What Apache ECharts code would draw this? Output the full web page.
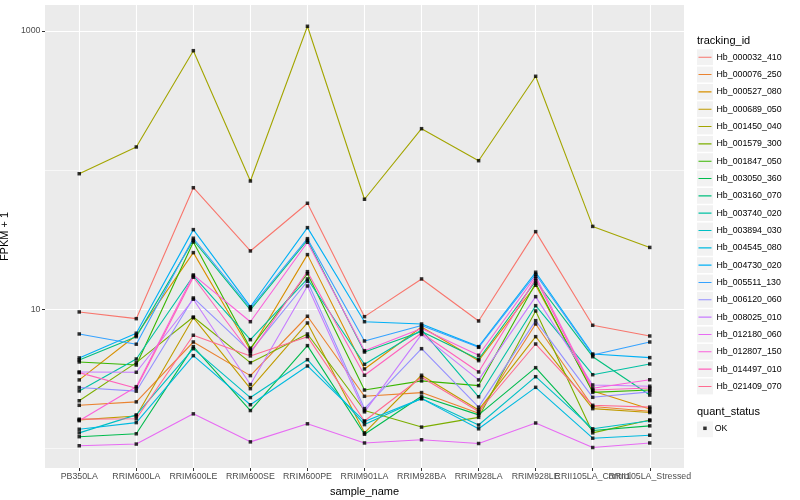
<!DOCTYPE html>
<html><head><meta charset="utf-8">
<script src="https://cdn.jsdelivr.net/npm/echarts@6/dist/echarts.min.js"></script>
<style>html,body{margin:0;padding:0;background:#fff}#c{width:800px;height:500px}</style>
</head><body><div id="c"></div>
<script>
const categories = ['PB350LA','RRIM600LA','RRIM600LE','RRIM600SE','RRIM600PE','RRIM901LA','RRIM928BA','RRIM928LA','RRIM928LE','RRII105LA_Control','RRII105LA_Stressed'];
const trackingIds = ['Hb_000032_410','Hb_000076_250','Hb_000527_080','Hb_000689_050','Hb_001450_040','Hb_001579_300','Hb_001847_050','Hb_003050_360','Hb_003160_070','Hb_003740_020','Hb_003894_030','Hb_004545_080','Hb_004730_020','Hb_005511_130','Hb_006120_060','Hb_008025_010','Hb_012180_060','Hb_012807_150','Hb_014497_010','Hb_021409_070'];
const lineColors = ['#F8766D','#EA8331','#D89000','#C09B00','#A3A500','#7CAE00','#39B600','#00BB4E','#00BF7D','#00C1A3','#00BFC4','#00BAE0','#00B0F6','#35A2FF','#9590FF','#C77CFF','#E76BF3','#FA62DB','#FF62BC','#FF6C91'];

const Hb_000032_410 = [9.60, 8.59, 74.9, 26.32, 57.9, 8.88, 16.57, 8.27, 36.22, 7.70, 6.45];
const Hb_000076_250 = [2.05, 2.17, 5.84, 3.35, 8.94, 2.38, 2.53, 1.80, 7.87, 2.01, 1.86];
const Hb_000527_080 = [3.12, 6.53, 25.60, 5.12, 24.77, 3.74, 7.49, 4.29, 14.93, 2.60, 1.93];
const Hb_000689_050 = [1.61, 1.72, 8.73, 2.70, 8.00, 1.30, 3.37, 1.90, 6.38, 1.94, 1.82];
const Hb_001450_040 = [94.4, 146.9, 722, 83.7, 1081, 61.9, 198.8, 117.1, 472.8, 39.5, 27.9];
const Hb_001579_300 = [2.21, 4.15, 8.83, 4.15, 6.67, 1.88, 1.43, 1.68, 9.76, 1.30, 1.61];
const Hb_001847_050 = [4.20, 3.99, 30.55, 5.27, 18.08, 2.64, 3.07, 2.84, 15.43, 2.54, 2.64];
const Hb_003050_360 = [1.22, 1.28, 5.41, 1.88, 5.50, 1.27, 2.38, 1.75, 3.82, 1.35, 1.46];
const Hb_003160_070 = [4.34, 6.38, 31.41, 9.92, 31.41, 4.95, 6.95, 4.39, 16.02, 4.58, 2.43];
const Hb_003740_020 = [2.60, 4.41, 17.41, 6.07, 16.57, 4.04, 7.13, 2.36, 10.65, 3.40, 4.06];
const Hb_003894_030 = [1.30, 1.75, 5.23, 2.33, 4.36, 1.49, 2.29, 1.48, 3.29, 1.39, 1.59];
const Hb_004545_080 = [1.38, 1.54, 4.66, 2.07, 3.93, 1.57, 2.29, 1.39, 2.76, 1.19, 1.25];
const Hb_004730_020 = [4.49, 6.75, 37.45, 10.47, 38.70, 8.17, 7.87, 5.41, 18.51, 4.79, 4.51];
const Hb_005511_130 = [6.67, 5.63, 32.48, 10.25, 32.26, 5.94, 7.68, 5.35, 17.91, 4.71, 5.84];
const Hb_006120_060 = [2.75, 2.59, 12.10, 4.98, 15.95, 1.94, 5.23, 1.99, 8.31, 2.34, 2.56];
const Hb_008025_010 = [3.56, 3.54, 11.84, 2.89, 14.75, 1.84, 6.62, 3.12, 12.36, 2.87, 2.81];
const Hb_012180_060 = [1.05, 1.08, 1.78, 1.12, 1.51, 1.10, 1.16, 1.09, 1.53, 1.02, 1.10];
const Hb_012807_150 = [1.59, 2.79, 17.70, 8.17, 30.40, 5.06, 7.31, 4.69, 17.33, 2.72, 3.13];
const Hb_014497_010 = [3.52, 2.72, 17.04, 4.85, 18.69, 3.37, 6.78, 3.56, 16.65, 2.64, 2.73];
const Hb_021409_070 = [1.63, 1.64, 6.53, 4.64, 6.38, 1.58, 3.26, 1.85, 5.65, 2.05, 1.99];

const yMajorTicks = [10, 1000];
const yMinorTicks = [1, 100];
const quantStatus = ['OK'];

const seriesValues = [Hb_000032_410, Hb_000076_250, Hb_000527_080, Hb_000689_050, Hb_001450_040, Hb_001579_300, Hb_001847_050, Hb_003050_360, Hb_003160_070, Hb_003740_020, Hb_003894_030, Hb_004545_080, Hb_004730_020, Hb_005511_130, Hb_006120_060, Hb_008025_010, Hb_012180_060, Hb_012807_150, Hb_014497_010, Hb_021409_070];
const catIndex = categories.map((c, i) => i);
const evenIdx = catIndex.filter(i => i % 2 === 0);
const oddIdx = catIndex.filter(i => i % 2 === 1);

const FONT = '"Liberation Sans", Arial, Helvetica, sans-serif';
const LINE_ICON = 'path://M0,0h0.02v0.02h-0.02z M1.5,7.35h13v1.1h-13z M15.98,15.78h0.02v0.02h-0.02z';
const chart = echarts.init(document.getElementById('c'), null, {renderer: 'canvas'});

const lineSeries = trackingIds.map((id, k) => ({
  type: 'line', name: id, symbol: 'none', showSymbol: false, z: 2, silent: true,
  data: seriesValues[k].map((v, i) => [catIndex[i], v]),
  lineStyle: {width: 1.1, color: lineColors[k]},
  itemStyle: {color: lineColors[k]}
}));
const pointSeries = {
  type: 'scatter', name: quantStatus[0], symbol: 'rect', symbolSize: 3.5, z: 3, silent: true,
  itemStyle: {color: '#000'},
  data: seriesValues.flatMap(vals => vals.map((v, i) => [catIndex[i], v]))
};

const titleStyle = {fontSize: 11, fontWeight: 'normal', color: '#000', fontFamily: FONT};
const xLabelBase = {hideOverlap: false, showMinLabel: true, showMaxLabel: true,
  formatter: v => categories[Math.round(v)] || '', color: '#4D4D4D', fontSize: 8.8, margin: 4.5, fontFamily: FONT};
const option = {
  animation: false,
  textStyle: {fontFamily: FONT},
  title: [
    {text: 'tracking_id', left: 697, top: 35, padding: 0, textStyle: titleStyle},
    {text: 'quant_status', left: 697, top: 406, padding: 0, textStyle: titleStyle}
  ],
  grid: {left: 45, top: 5, right: 116, bottom: 32, show: true, backgroundColor: '#EBEBEB', borderWidth: 0,
         containLabel: false, outerBoundsMode: 'none'},
  legend: [
    {orient: 'vertical', left: 697, top: 49.3, padding: 0, itemWidth: 16, itemHeight: 15.8, itemGap: 1.53, z: 3,
     selectedMode: false,
     data: trackingIds.map(id => ({name: id, icon: 'rect', itemStyle: {color: '#F2F2F2', borderWidth: 0}, textStyle: {color: 'rgba(0,0,0,0)'}})),
     textStyle: {fontSize: 8.8, fontFamily: FONT}},
    {orient: 'vertical', left: 697, top: 49.3, padding: 0, itemWidth: 16, itemHeight: 15.8, itemGap: 1.53, z: 4,
     selectedMode: false,
     data: trackingIds.map((id, k) => ({name: id, icon: LINE_ICON, itemStyle: {color: lineColors[k], borderWidth: 0}})),
     textStyle: {fontSize: 8.8, color: '#000', fontFamily: FONT, padding: [0, 0, 0, -1.5]}},
    {orient: 'vertical', left: 697, top: 421.4, padding: 0, itemWidth: 16, itemHeight: 15.8, z: 3, selectedMode: false,
     data: [{name: quantStatus[0], icon: 'rect', itemStyle: {color: '#F2F2F2', borderWidth: 0}, textStyle: {color: 'rgba(0,0,0,0)'}}],
     textStyle: {fontSize: 8.8, fontFamily: FONT}},
    {orient: 'vertical', left: 703.2, top: 423.8, padding: 0, itemWidth: 3.5, itemHeight: 3.5, z: 4, selectedMode: false,
     data: [{name: quantStatus[0], icon: 'rect', itemStyle: {color: '#000', borderWidth: 0}}],
     textStyle: {fontSize: 8.8, color: '#000', fontFamily: FONT, padding: [0, 0, 0, 3]}}
  ],
  xAxis: [{
    type: 'value', min: -0.6, max: 10.6, position: 'bottom',
    axisLine: {show: false, onZero: false},
    axisTick: {show: true, customValues: catIndex, length: 3, lineStyle: {color: '#333', width: 1}},
    axisLabel: Object.assign({customValues: evenIdx}, xLabelBase),
    splitLine: {show: true, lineStyle: {color: '#fff', width: 1.1}},
    name: 'sample_name', nameLocation: 'middle', nameGap: 14,
    nameTextStyle: {fontSize: 11, color: '#000', fontFamily: FONT}
  }, {
    type: 'value', min: -0.6, max: 10.6, position: 'bottom', offset: 0,
    axisLine: {show: false, onZero: false},
    axisTick: {show: false, customValues: oddIdx},
    axisLabel: Object.assign({customValues: oddIdx}, xLabelBase),
    splitLine: {show: false}
  }],
  yAxis: [{
    type: 'log', logBase: 10, min: 0.727, max: 1537,
    axisLine: {show: false, onZero: false},
    axisTick: {show: true, customValues: yMajorTicks, length: 3, lineStyle: {color: '#333', width: 1}},
    axisLabel: {customValues: yMajorTicks, showMinLabel: true, showMaxLabel: true, align: 'right', verticalAlign: 'middle',
                formatter: v => String(Math.round(v)), color: '#4D4D4D', fontSize: 8.8, margin: 4.5, fontFamily: FONT},
    splitLine: {show: true, lineStyle: {color: '#fff', width: 1.2}},
    name: 'FPKM + 1', nameLocation: 'middle', nameGap: 28,
    nameTextStyle: {fontSize: 11, color: '#000', fontFamily: FONT}
  }, {
    type: 'log', logBase: 10, min: 0.727, max: 1537, position: 'left',
    axisLine: {show: false, onZero: false},
    axisTick: {show: false, customValues: yMinorTicks},
    axisLabel: {show: false, customValues: yMinorTicks},
    splitLine: {show: true, lineStyle: {color: '#fff', width: 0.6}}
  }],
  series: lineSeries.concat([pointSeries])
};
chart.setOption(option);
</script></body></html>
